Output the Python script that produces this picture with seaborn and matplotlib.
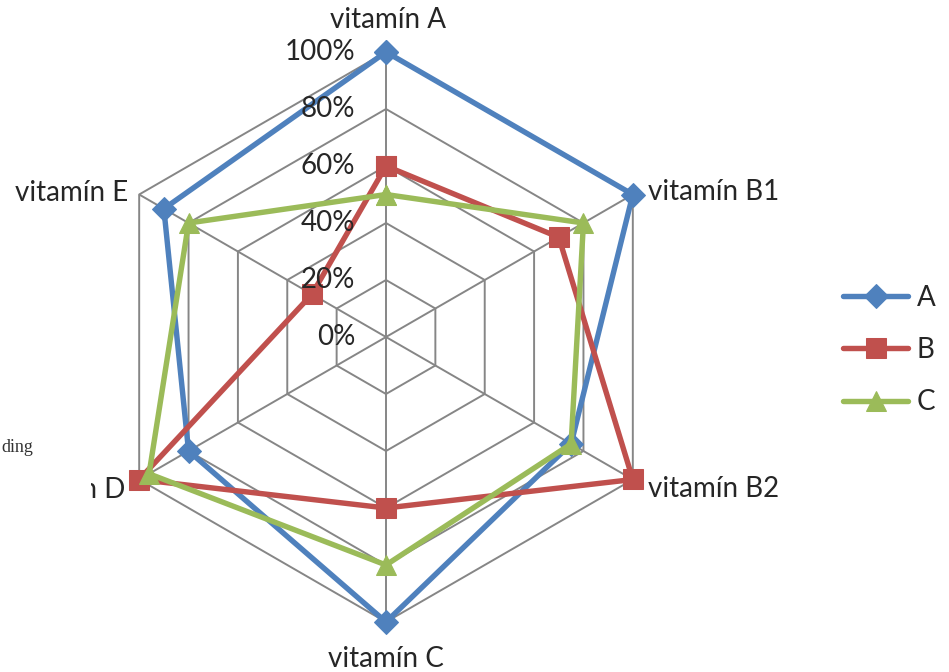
import numpy as np
import pandas as pd
import seaborn as sns
import matplotlib.pyplot as plt
from matplotlib.transforms import offset_copy
from matplotlib.patches import Rectangle

sns.set_style("white")
plt.rcParams['font.family'] = ['Lato', 'DejaVu Sans']

# data (fractions of 100%)
categories = ["vitamín A", "vitamín B1", "vitamín B2", "vitamín C", "vitamín D", "vitamín E"]
series_names = ["A", "B", "C"]
values_a = [1.00, 1.00, 0.75, 1.00, 0.80, 0.90]
values_b = [0.60, 0.70, 1.00, 0.60, 1.00, 0.30]
values_c = [0.50, 0.80, 0.75, 0.80, 0.96, 0.80]
ring_values = [0.0, 0.2, 0.4, 0.6, 0.8, 1.0]
ring_labels = ["0%", "20%", "40%", "60%", "80%", "100%"]

colors = {"A": "#4F81BD", "B": "#C0504D", "C": "#9BBB59"}
markers = {"A": "D", "B": "s", "C": "^"}
msizes = {"A": 12, "B": 14.5, "C": 15}

n = len(categories)
theta = np.linspace(0, 2 * np.pi, n, endpoint=False)
theta_closed = np.append(theta, 2 * np.pi)

rows = []
for name, vals in zip(series_names, [values_a, values_b, values_c]):
    for t, v in zip(theta_closed, vals + vals[:1]):
        rows.append({"theta": t, "value": v, "series": name})
df = pd.DataFrame(rows)

fig = plt.figure(figsize=(9.49, 6.72), dpi=100)
ax = fig.add_axes([101 / 949, 50 / 672, 570 / 949, 570 / 672], projection="polar")
ax.set_theta_zero_location("N")
ax.set_theta_direction(-1)
ax.set_ylim(0, 1)
ax.grid(False)
ax.spines["polar"].set_visible(False)
ax.set_xticks([])
ax.set_yticks([])
ax.patch.set_alpha(0)

# hexagonal grid
grid_kw = dict(color="#868686", lw=1.4, zorder=1, solid_capstyle="butt", clip_on=False)
for r in ring_values[1:]:
    ax.plot(theta_closed, [r] * (n + 1), **grid_kw)
for t in theta:
    ax.plot([t, t], [0, 1], **grid_kw)

# series
for name in series_names:
    sub = df[df["series"] == name]
    sns.lineplot(data=sub, x="theta", y="value", sort=False, estimator=None,
                 color=colors[name], lw=3.9, marker=markers[name],
                 markersize=msizes[name], markeredgecolor=colors[name],
                 ax=ax, label=name, legend=False, zorder=3, clip_on=False)
ax.set_xlabel("")
ax.set_ylabel("")

# radial tick labels
for r, lab in zip(ring_values, ring_labels):
    tr = offset_copy(ax.transData, fig=fig, x=-31, y=0, units="dots")
    ax.text(0, r, lab, transform=tr, ha="right", va="center", fontsize=20)

# category labels
offsets = [(2, 32, "center"), (15, 3, "left"), (15, -10, "left"),
           (0, -37, "center"), (-14, -10, "right"), (-11, 2, "right")]
for t, cat, (dx, dy, ha) in zip(theta, categories, offsets):
    tr = offset_copy(ax.transData, fig=fig, x=dx, y=dy, units="dots")
    ax.text(t, 1.0, cat, transform=tr, ha=ha, va="center", fontsize=20)

# legend
handles = ax.get_lines()[-3:]
fig.legend(handles, series_names, loc="center left",
           bbox_to_anchor=(843 / 949, 1 - 350 / 672), frameon=False,
           fontsize=20, handlelength=2.35, handletextpad=0.3,
           labelspacing=0.95, borderpad=0, borderaxespad=0)

# document text peeking out behind the chart on the left
fig.add_artist(Rectangle((0, 1 - 515 / 672), 91 / 949, 95 / 672,
                         transform=fig.transFigure, facecolor="white",
                         edgecolor="none", zorder=10))
fig.text(1 / 949, 1 - 447 / 672, "ding", family="Liberation Serif",
         fontsize=13, color="#333333", ha="left", va="center", zorder=11)

fig.savefig("out.png", dpi=100)
